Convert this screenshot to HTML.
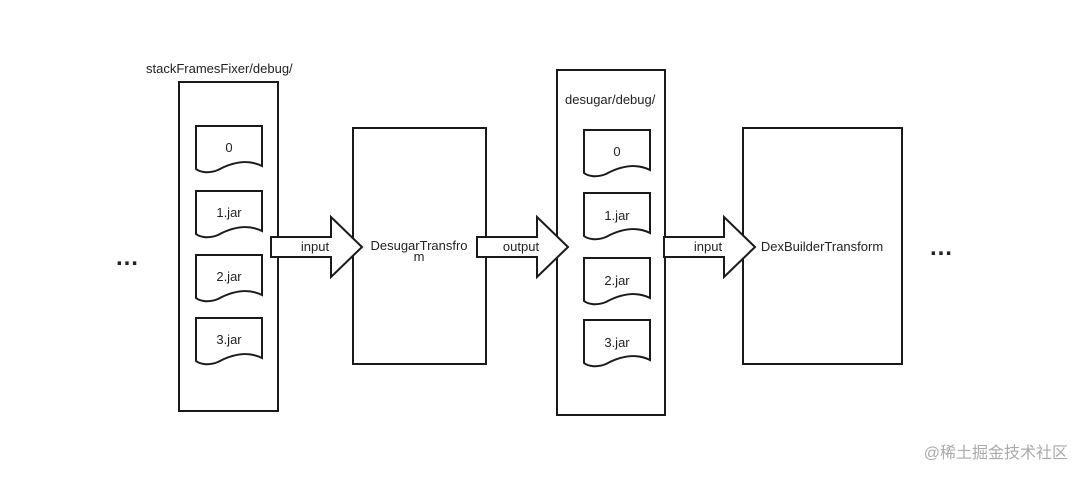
<!DOCTYPE html>
<html><head><meta charset="utf-8"><style>
body{margin:0;background:#fff;}
svg text{font-family:"Liberation Sans","Noto Sans CJK SC",sans-serif;font-size:13px;fill:#222;}
</style></head><body>
<svg width="1083" height="478" xmlns="http://www.w3.org/2000/svg">
<defs>
<g id="doc"><path d="M0,0 H66 V40 C50,32 33,38 22,44 C12,48 4,46 0,43 Z" fill="#fff" stroke="#1a1a1a" stroke-width="2"/></g>
</defs>
<g fill="none" stroke="#1a1a1a" stroke-width="2">
<rect x="179" y="82" width="99" height="329"/>
<rect x="353" y="128" width="133" height="236"/>
<rect x="557" y="70" width="108" height="345"/>
<rect x="743" y="128" width="159" height="236"/>
</g>
<use href="#doc" x="196" y="126"/>
<use href="#doc" x="196" y="191"/>
<use href="#doc" x="196" y="255"/>
<use href="#doc" x="196" y="318"/>
<use href="#doc" x="584" y="130"/>
<use href="#doc" x="584" y="193"/>
<use href="#doc" x="584" y="258"/>
<use href="#doc" x="584" y="320"/>
<g fill="#fff" stroke="#1a1a1a" stroke-width="2">
<path d="M271,237 H331 V217 L362,247 L331,277 V257 H271 Z"/>
<path d="M477,237 H537 V217 L568,247 L537,277 V257 H477 Z"/>
<path d="M664,237 H724 V217 L755,247 L724,277 V257 H664 Z"/>
</g>
<text x="146" y="73">stackFramesFixer/debug/</text>
<text x="229" y="152" text-anchor="middle">0</text>
<text x="229" y="217" text-anchor="middle">1.jar</text>
<text x="229" y="281" text-anchor="middle">2.jar</text>
<text x="229" y="344" text-anchor="middle">3.jar</text>
<text x="565" y="104">desugar/debug/</text>
<text x="617" y="156" text-anchor="middle">0</text>
<text x="617" y="220" text-anchor="middle">1.jar</text>
<text x="617" y="285" text-anchor="middle">2.jar</text>
<text x="617" y="347" text-anchor="middle">3.jar</text>
<text x="315" y="251" text-anchor="middle">input</text>
<text x="521" y="251" text-anchor="middle">output</text>
<text x="708" y="251" text-anchor="middle">input</text>
<text x="419" y="250" text-anchor="middle">DesugarTransfro</text>
<text x="419" y="261" text-anchor="middle">m</text>
<text x="822" y="251" text-anchor="middle">DexBuilderTransform</text>
<text x="127" y="265" text-anchor="middle" style="font-size:24px;font-weight:bold">…</text>
<text x="941" y="255" text-anchor="middle" style="font-size:24px;font-weight:bold">…</text>
<text x="1068" y="458" text-anchor="end" style="font-size:16px;fill:#aaa">@稀土掘金技术社区</text>
</svg>
</body></html>
